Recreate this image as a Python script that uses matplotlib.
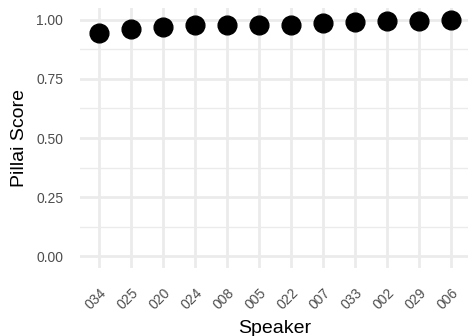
import numpy as np
import matplotlib
matplotlib.use("Agg")
from matplotlib import pyplot as plt
from matplotlib.transforms import ScaledTranslation

plt.rcParams.update({
    "font.family": ["Liberation Sans", "DejaVu Sans"],
})

# Pillai score per speaker, sorted ascending
speakers = ["034", "025", "020", "024", "008", "005", "022", "007", "033", "002", "029", "006"]
pillai = [0.945, 0.961, 0.968, 0.976, 0.977, 0.978, 0.978, 0.986, 0.990, 0.994, 0.995, 1.000]

W, H = 468, 336
fig = plt.figure(figsize=(W/100, H/100), dpi=100)

# panel in pixels: left 80, top 8, bottom 268, right ~470
left, right, top, bottom = 80, 470, 8, 268
ax = fig.add_axes([left/W, 1 - bottom/H, (right-left)/W, (bottom-top)/H])

x = np.arange(len(speakers))
ax.plot(x, pillai, "o", color="black", markersize=13.5, zorder=3, clip_on=False)

ax.set_xlim(-0.6, len(speakers) - 0.4)
ax.set_ylim(-0.05, 1.05)

ax.set_yticks([0, 0.25, 0.5, 0.75, 1.0])
ax.set_yticklabels(["0.00", "0.25", "0.50", "0.75", "1.00"])
ax.set_yticks([0.125, 0.375, 0.625, 0.875], minor=True)
ax.set_xticks(x)
ax.set_xticklabels(speakers, rotation=45, ha="right", rotation_mode="anchor")
# nudge rotated labels right, like ggplot's hjust=1 about the text centre
shift = ScaledTranslation(6/100, 0, fig.dpi_scale_trans)
for lab in ax.get_xticklabels():
    lab.set_transform(lab.get_transform() + shift)

ax.grid(True, which="major", color="#EBEBEB", linewidth=2.0)
ax.grid(True, which="minor", axis="y", color="#EBEBEB", linewidth=1.0)
ax.set_axisbelow(True)

for s in ax.spines.values():
    s.set_visible(False)
ax.tick_params(axis="both", which="both", length=0, labelsize=10, labelcolor="#4D4D4D")
ax.tick_params(axis="x", pad=13)
ax.tick_params(axis="y", pad=12)

ax.set_xlabel("Speaker", fontsize=14, labelpad=5)
ax.set_ylabel("Pillai Score", fontsize=14, labelpad=6)

fig.savefig("out.png", dpi=100)
